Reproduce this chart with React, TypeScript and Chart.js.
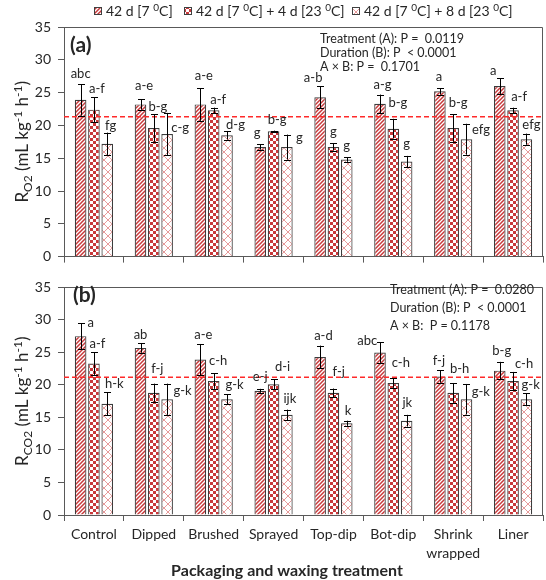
import React, { useEffect, useRef } from "react";
import { Chart, registerables } from "chart.js";

Chart.register(...registerables);

// ---------- data ----------
const categories: (string | string[])[] = ["Control", "Dipped", "Brushed", "Sprayed", "Top-dip", "Bot-dip", ["Shrink", "wrapped"], "Liner"];

// Panel (a): R_O2
const ro2_42d = [23.9, 23.2, 23.2, 16.7, 24.3, 23.3, 25.2, 26.0];
const ro2_42d_err = [2.4, 0.8, 2.5, 0.4, 1.7, 1.4, 0.5, 1.2];
const ro2_4d = [22.4, 19.6, 22.3, 19.1, 16.7, 19.5, 19.6, 22.3];
const ro2_4d_err = [1.9, 2.1, 0.4, 0.1, 0.55, 1.5, 2.1, 0.4];
const ro2_8d = [17.2, 18.7, 18.5, 16.7, 14.8, 14.5, 17.9, 17.9];
const ro2_8d_err = [1.7, 3.2, 0.65, 1.9, 0.35, 0.85, 2.35, 0.85];
const ro2_42d_letters = ["abc", "a-e", "a-e", "g", "a-b", "a-g", "a", "a"];
const ro2_4d_letters = ["a-f", "b-g", "a-f", "b-g", "g", "b-g", "b-g", "a-f"];
const ro2_8d_letters = ["fg", "c-g", "d-g", "g", "g", "g", "efg", "efg"];
const ro2_refLine = 21.3;
const ro2_stats = ["Treatment (A): P =  0.0119", "Duration (B): P  < 0.0001", "A \u00d7 B: P =  0.1701"];

// Panel (b): R_CO2
const rco2_42d = [27.5, 25.7, 23.9, 19.1, 24.3, 25.0, 21.3, 22.2];
const rco2_42d_err = [2.0, 0.75, 2.4, 0.3, 1.75, 1.6, 0.95, 1.35];
const rco2_4d = [23.3, 18.8, 20.6, 20.1, 18.8, 20.3, 18.8, 20.6];
const rco2_4d_err = [1.75, 1.4, 1.2, 0.8, 0.65, 0.75, 1.5, 1.4];
const rco2_8d = [17.1, 17.8, 17.8, 15.4, 14.1, 14.5, 17.8, 17.8];
const rco2_8d_err = [1.75, 2.4, 0.75, 0.8, 0.4, 0.9, 2.35, 0.9];
const rco2_42d_letters = ["a", "ab", "a-e", "e-j", "a-d", "abc", "f-j", "b-g"];
const rco2_4d_letters = ["a-f", "f-j", "c-h", "d-i", "f-j", "c-h", "b-h", "c-h"];
const rco2_8d_letters = ["h-k", "g-k", "g-k", "ijk", "k", "jk", "g-k", "g-k"];
const rco2_refLine = 21.2;
const rco2_stats = ["Treatment (A): P =  0.0280", "Duration (B): P  < 0.0001", "A \u00d7 B:  P = 0.1178"];

const yTicks = [0, 5, 10, 15, 20, 25, 30, 35];

// ---------- layout (label nudges relative to error-bar top: [dx, gap]) ----------
const nudgeA = [
  [[0, 5.7], [3.5, 9], [3.5, 8], [-3, 7.7], [-7, 3.7], [2.5, 6], [-1, 6.7], [-6.5, 3.3]],
  [[3, 4], [4, 3.7], [4.5, 4], [3.5, 7], [0, 7], [4.5, 11.7], [5, 7.3], [6, 6.4]],
  [[3.5, 3], [13, -19.3], [8.5, 2], [12.5, -7.7], [0, 7.7], [0, 7.7], [14.5, -10.6], [5, 5]],
];
const nudgeB = [
  [[10, -4], [0, 4.3], [3, 5.3], [0, 7.7], [3.3, 6], [-12.7, -2.7], [-1, 5.7], [2, 6.6]],
  [[3.5, 4], [3.5, 10.7], [4.5, 8.3], [9, 7.7], [5.3, 12.7], [7.5, 10.7], [6.5, 10], [11, 4.4]],
  [[7, 4.3], [15.5, -11.7], [7.5, 5.7], [3, 6.7], [1.3, 5.7], [0.7, 8.3], [14.3, -11.7], [4.3, 4.3]],
];

const FONT = "Lato, 'Open Sans', sans-serif";
const TEXT = "#262626";
const AXIS = "#595959";
const RED = "#C8383A";

type Seg = { t: string; s?: "sup" | "sub" };

function drawRich(ctx: CanvasRenderingContext2D, segs: Seg[], x: number, y: number, size: number, align: "left" | "center", weight = "normal") {
  const fontFor = (s: Seg) => `${weight} ${s.s ? Math.round(size * 0.68) : size}px ${FONT}`;
  let w = 0;
  for (const s of segs) {
    ctx.font = fontFor(s);
    w += ctx.measureText(s.t).width;
  }
  let cx = align === "center" ? x - w / 2 : x;
  ctx.textAlign = "left";
  ctx.textBaseline = "alphabetic";
  for (const s of segs) {
    ctx.font = fontFor(s);
    const dy = s.s === "sup" ? -size * 0.38 : s.s === "sub" ? size * 0.22 : 0;
    ctx.fillText(s.t, cx, y + dy);
    cx += ctx.measureText(s.t).width;
  }
}

function makePattern(kind: number): CanvasPattern | string {
  const c = document.createElement("canvas");
  if (kind === 0) {
    const s = 4;
    c.width = s; c.height = s;
    const g = c.getContext("2d")!;
    g.fillStyle = "#fff"; g.fillRect(0, 0, s, s);
    g.strokeStyle = RED; g.lineWidth = 1.5;
    g.beginPath();
    g.moveTo(-1, 1); g.lineTo(1, -1);
    g.moveTo(0, s); g.lineTo(s, 0);
    g.moveTo(s - 1, s + 1); g.lineTo(s + 1, s - 1);
    g.stroke();
  } else if (kind === 1) {
    const s = 6;
    c.width = s; c.height = s;
    const g = c.getContext("2d")!;
    g.fillStyle = "#fff"; g.fillRect(0, 0, s, s);
    g.fillStyle = RED;
    g.fillRect(0, 0, 3, 3); g.fillRect(3, 3, 3, 3);
  } else {
    const s = 8;
    c.width = s; c.height = s;
    const g = c.getContext("2d")!;
    g.fillStyle = "#fff"; g.fillRect(0, 0, s, s);
    g.strokeStyle = "#E79A9A"; g.lineWidth = 1;
    g.beginPath();
    g.moveTo(0, 0); g.lineTo(s, s);
    g.moveTo(0, s); g.lineTo(s, 0);
    g.stroke();
  }
  const ctx = c.getContext("2d")!;
  return ctx.createPattern(c, "repeat") || "#fff";
}

type PanelCfg = {
  values: number[][];
  errors: number[][];
  letters: string[][];
  nudge: number[][][];
  refLine: number;
  stats: string[];
  statsX: number;
  statsY: number[];
  panelLabel: string;
  panelXY: [number, number];
  yTitle: Seg[];
  yTitleX: number;
  legend: boolean;
  xTitle: boolean;
};

function panelPlugin(cfg: PanelCfg, patterns: (CanvasPattern | string)[]) {
  return {
    id: "panelDecor",
    afterDatasetsDraw(chart: any) {
      const ctx: CanvasRenderingContext2D = chart.ctx;
      const ys = chart.scales.y;
      const area = chart.chartArea;
      ctx.save();
      // reference dashed line
      ctx.strokeStyle = "#FF2A2A";
      ctx.lineWidth = 1.5;
      ctx.setLineDash([5, 3]);
      const ry = ys.getPixelForValue(cfg.refLine);
      ctx.beginPath();
      ctx.moveTo(area.left, ry);
      ctx.lineTo(area.right, ry);
      ctx.stroke();
      ctx.setLineDash([]);
      // error bars + letters
      cfg.values.forEach((vals, di) => {
        const meta = chart.getDatasetMeta(di);
        meta.data.forEach((bar: any, i: number) => {
          const v = vals[i];
          const e = cfg.errors[di][i];
          const x = Math.round(bar.x) + 0.5;
          const top = ys.getPixelForValue(v + e);
          const bot = ys.getPixelForValue(v - e);
          ctx.strokeStyle = "#000";
          ctx.lineWidth = 1;
          ctx.beginPath();
          ctx.moveTo(x, top); ctx.lineTo(x, bot);
          ctx.moveTo(x - 3.5, Math.round(top) + 0.5); ctx.lineTo(x + 3.5, Math.round(top) + 0.5);
          ctx.moveTo(x - 3.5, Math.round(bot) + 0.5); ctx.lineTo(x + 3.5, Math.round(bot) + 0.5);
          ctx.stroke();
          const [dx, gap] = cfg.nudge[di][i];
          ctx.fillStyle = TEXT;
          ctx.font = `13px ${FONT}`;
          ctx.textAlign = "center";
          ctx.textBaseline = "alphabetic";
          ctx.fillText(cfg.letters[di][i], bar.x + dx, top - gap);
        });
      });
      ctx.restore();
    },
    afterDraw(chart: any) {
      const ctx: CanvasRenderingContext2D = chart.ctx;
      const area = chart.chartArea;
      ctx.save();
      // frame (top + right)
      ctx.strokeStyle = AXIS;
      ctx.lineWidth = 1;
      ctx.beginPath();
      ctx.moveTo(Math.round(area.left), Math.round(area.top) + 0.5);
      ctx.lineTo(Math.round(area.right) - 0.5, Math.round(area.top) + 0.5);
      ctx.lineTo(Math.round(area.right) - 0.5, Math.round(area.bottom));
      ctx.stroke();
      ctx.fillStyle = TEXT;
      // panel label
      ctx.font = `bold 21px ${FONT}`;
      ctx.textAlign = "left";
      ctx.textBaseline = "alphabetic";
      ctx.fillText(cfg.panelLabel, cfg.panelXY[0], cfg.panelXY[1]);
      // stats
      ctx.font = `12.5px ${FONT}`;
      cfg.stats.forEach((s, i) => {
        ctx.textBaseline = "middle";
        ctx.fillText(s, cfg.statsX, cfg.statsY[i]);
      });
      // y title
      ctx.save();
      ctx.translate(cfg.yTitleX, (area.top + area.bottom) / 2);
      ctx.rotate(-Math.PI / 2);
      drawRich(ctx, cfg.yTitle, 0, 6, 17, "center");
      ctx.restore();
      // legend
      if (cfg.legend) {
        const items: { x: number; segs: Seg[] }[] = [
          { x: 94, segs: [{ t: "42 d [7 " }, { t: "0", s: "sup" }, { t: "C]" }] },
          { x: 184, segs: [{ t: "42 d [7 " }, { t: "0", s: "sup" }, { t: "C] + 4 d [23 " }, { t: "0", s: "sup" }, { t: "C]" }] },
          { x: 352, segs: [{ t: "42 d [7 " }, { t: "0", s: "sup" }, { t: "C] + 8 d [23 " }, { t: "0", s: "sup" }, { t: "C]" }] },
        ];
        items.forEach((it, k) => {
          ctx.fillStyle = patterns[k] as any;
          ctx.fillRect(it.x, 7, 8, 8);
          ctx.strokeStyle = "#404040";
          ctx.strokeRect(it.x + 0.5, 7.5, 7, 7);
          ctx.fillStyle = TEXT;
          drawRich(ctx, it.segs, it.x + 12, 16, 14, "left");
        });
      }
      if (cfg.xTitle) {
        ctx.fillStyle = TEXT;
        ctx.font = `bold 16px ${FONT}`;
        ctx.textAlign = "center";
        ctx.textBaseline = "middle";
        ctx.fillText("Packaging and waxing treatment", 287, chart.height - 9);
      }
      ctx.restore();
    },
  };
}

function buildChart(canvas: HTMLCanvasElement, cfg: PanelCfg, opts: { padTop: number; xHeight: number; showX: boolean }) {
  const patterns = [makePattern(0), makePattern(1), makePattern(2)];
  const names = ["42 d [7 \u2070C]", "42 d [7 \u2070C] + 4 d [23 \u2070C]", "42 d [7 \u2070C] + 8 d [23 \u2070C]"];
  return new Chart(canvas, {
    type: "bar",
    data: {
      labels: categories as any,
      datasets: cfg.values.map((vals, i) => ({
        label: names[i],
        data: vals,
        backgroundColor: patterns[i] as any,
        borderColor: "#3C3C3C",
        borderWidth: 1.2,
        categoryPercentage: 0.667,
        barPercentage: 0.87,
      })),
    },
    options: {
      responsive: false,
      animation: false,
      devicePixelRatio: 1,
      layout: { padding: { top: opts.padTop, right: 3, left: 0, bottom: 0 } },
      plugins: { legend: { display: false }, tooltip: { enabled: false }, title: { display: false } },
      scales: {
        x: {
          grid: { display: true, drawOnChartArea: false, drawTicks: true, tickLength: 6, color: AXIS, offset: true },
          border: { display: true, color: AXIS, width: 1 },
          ticks: {
            display: opts.showX,
            color: TEXT,
            font: { family: FONT, size: 14, lineHeight: 1.35 },
            padding: 4,
            maxRotation: 0,
            autoSkip: false,
          },
          afterFit: (s: any) => { s.height = opts.xHeight; },
        },
        y: {
          min: 0,
          max: 35,
          afterBuildTicks: (s: any) => { s.ticks = yTicks.map((v) => ({ value: v })); },
          ticks: { color: TEXT, font: { family: FONT, size: 14 }, padding: 7 },
          grid: { display: true, drawOnChartArea: false, drawTicks: true, tickLength: 6, color: AXIS },
          border: { display: true, color: AXIS, width: 1 },
          afterFit: (s: any) => { s.width = 64; },
        },
      },
    },
    plugins: [panelPlugin(cfg, patterns)],
  });
}

export default function App() {
  const refA = useRef<HTMLCanvasElement>(null);
  const refB = useRef<HTMLCanvasElement>(null);
  useEffect(() => {
    const cfgA: PanelCfg = {
      values: [ro2_42d, ro2_4d, ro2_8d],
      errors: [ro2_42d_err, ro2_4d_err, ro2_8d_err],
      letters: [ro2_42d_letters, ro2_4d_letters, ro2_8d_letters],
      nudge: nudgeA,
      refLine: ro2_refLine,
      stats: ro2_stats,
      statsX: 320,
      statsY: [39, 53, 67],
      panelLabel: "(a)",
      panelXY: [70, 52],
      yTitle: [{ t: "R" }, { t: "O2", s: "sub" }, { t: " (mL kg" }, { t: "-1", s: "sup" }, { t: " h" }, { t: "-1", s: "sup" }, { t: ")" }],
      yTitleX: 22,
      legend: true,
      xTitle: false,
    };
    const cfgB: PanelCfg = {
      values: [rco2_42d, rco2_4d, rco2_8d],
      errors: [rco2_42d_err, rco2_4d_err, rco2_8d_err],
      letters: [rco2_42d_letters, rco2_4d_letters, rco2_8d_letters],
      nudge: nudgeB,
      refLine: rco2_refLine,
      stats: rco2_stats,
      statsX: 390,
      statsY: [18, 36, 54],
      panelLabel: "(b)",
      panelXY: [73, 30],
      yTitle: [{ t: "R" }, { t: "CO2", s: "sub" }, { t: " (mL kg" }, { t: "-1", s: "sup" }, { t: " h" }, { t: "-1", s: "sup" }, { t: ")" }],
      yTitleX: 22,
      legend: false,
      xTitle: true,
    };
    const a = buildChart(refA.current!, cfgA, { padTop: 27, xHeight: 9, showX: false });
    const b = buildChart(refB.current!, cfgB, { padTop: 9, xHeight: 65, showX: true });
    return () => { a.destroy(); b.destroy(); };
  }, []);
  return (
    <div style={{ position: "absolute", left: 0, top: 0, width: 546, height: 580, background: "#fff" }}>
      <canvas ref={refA} width={546} height={272} style={{ position: "absolute", left: 0, top: 0, width: 546, height: 272 }} />
      <canvas ref={refB} width={546} height={308} style={{ position: "absolute", left: 0, top: 272, width: 546, height: 308 }} />
    </div>
  );
}
